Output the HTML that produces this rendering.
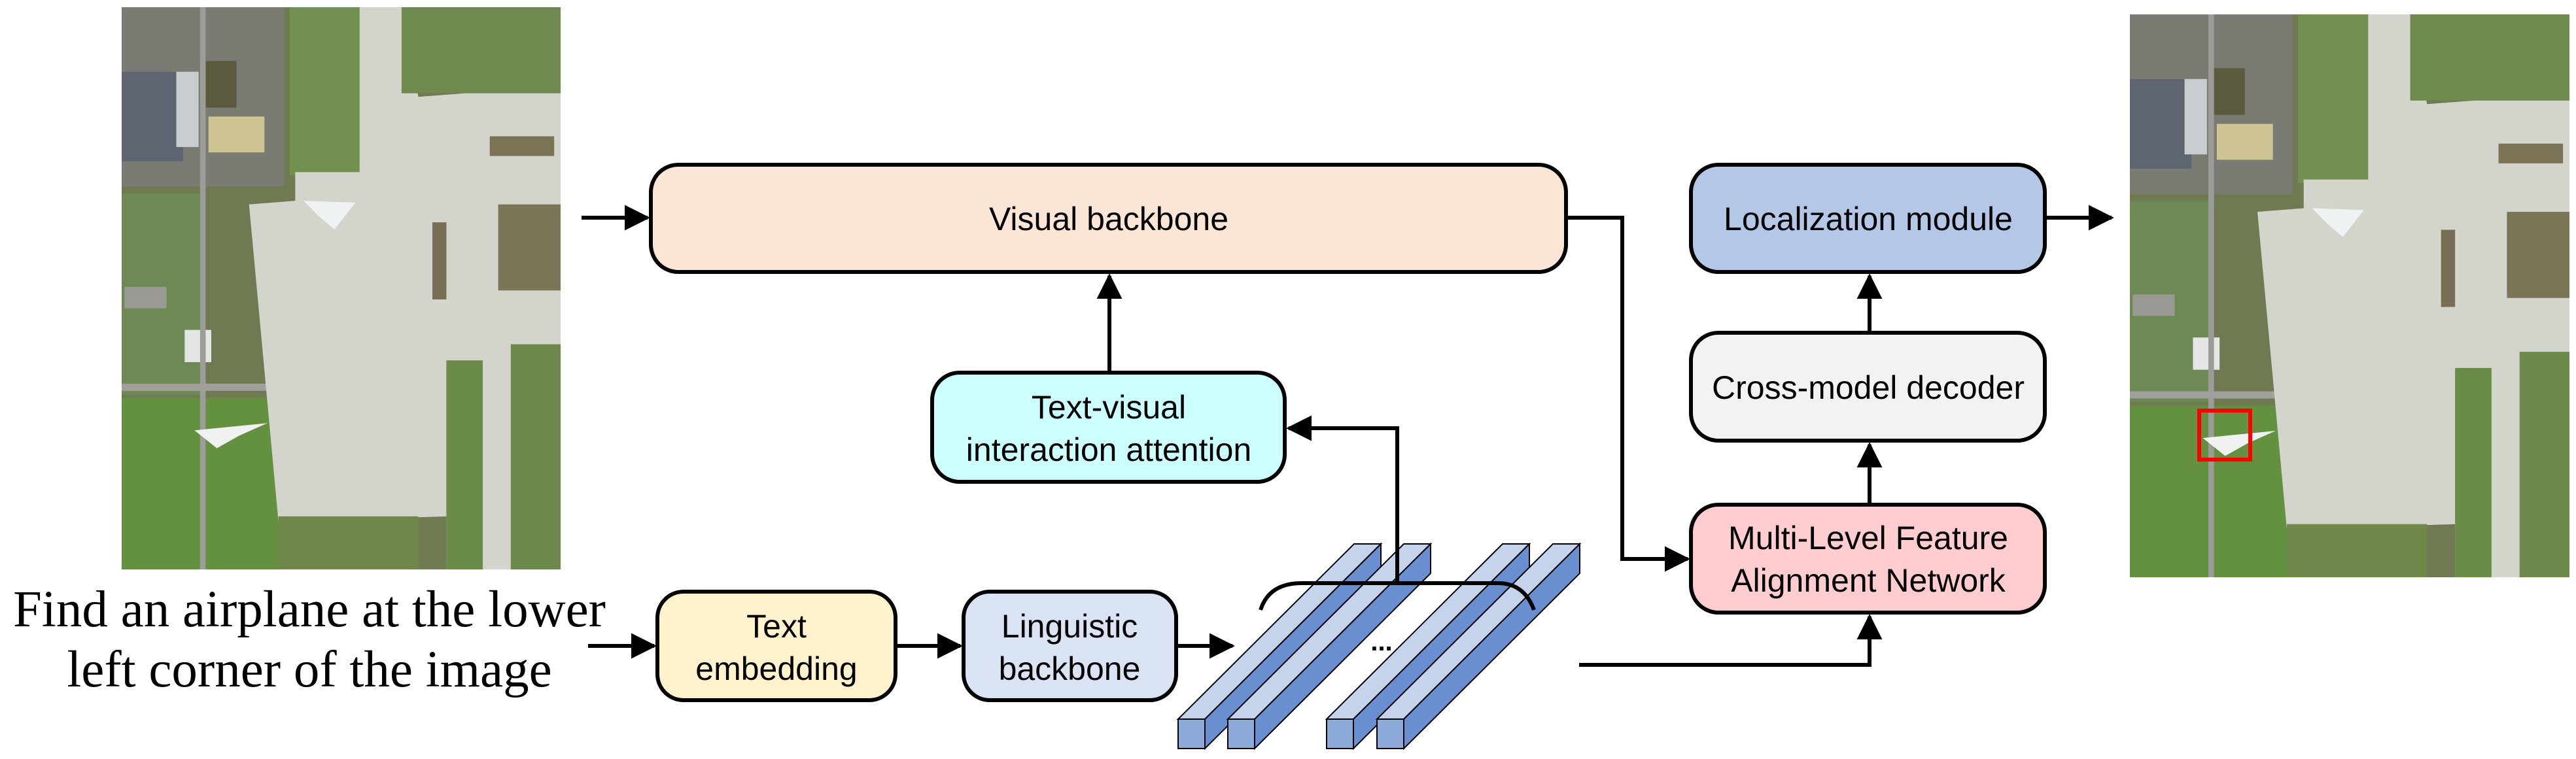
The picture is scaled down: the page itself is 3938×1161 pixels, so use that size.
<!DOCTYPE html>
<html><head><meta charset="utf-8"><style>
html,body{margin:0;padding:0;background:#fff;}
svg{display:block;}
.t{font-family:"Liberation Sans Narrow","Liberation Sans",sans-serif;font-size:50px;fill:#000;text-anchor:middle;}
.s{font-family:"Liberation Serif",serif;font-size:79px;fill:#000;text-anchor:middle;}
.b{stroke:#000;stroke-width:6;}
.l{stroke:#000;stroke-width:6;fill:none;}
</style></head><body>
<svg width="3938" height="1161" viewBox="0 0 3938 1161" xmlns="http://www.w3.org/2000/svg">
<defs>
<symbol id="sat" viewBox="0 0 1568 1568" preserveAspectRatio="none">
<rect width="1568" height="1568" fill="#6f7a52"/>
<rect x="0" y="0" width="580" height="500" fill="#7a7c74"/>
<rect x="0" y="180" width="220" height="250" fill="#5e6470"/>
<rect x="195" y="180" width="80" height="210" fill="#c9cdd0"/>
<rect x="310" y="305" width="200" height="100" fill="#cfc493"/>
<rect x="280" y="150" width="130" height="130" fill="#5c5a3c"/>
<rect x="0" y="520" width="300" height="560" fill="#6d8a55"/>
<rect x="10" y="780" width="150" height="60" fill="#9a9a95"/>
<rect x="225" y="900" width="95" height="90" fill="#e4e6e6"/>
<rect x="0" y="1090" width="560" height="478" fill="#63913f"/>
<rect x="280" y="0" width="20" height="1568" fill="#9c9d98"/>
<rect x="0" y="1050" width="560" height="20" fill="#a09f99"/>
<rect x="600" y="0" width="260" height="470" fill="#72904f"/>
<polygon points="455,550 620,540 620,460 850,460 850,0 1000,0 1060,250 1568,220 1568,1568 1160,1568 1160,1420 560,1435" fill="#d3d4cc"/>
<rect x="1000" y="0" width="568" height="240" fill="#6f8a4e"/>
<rect x="1345" y="550" width="223" height="240" fill="#7b7558"/>
<rect x="1390" y="940" width="178" height="628" fill="#6d8a4c"/>
<rect x="1160" y="985" width="130" height="583" fill="#6b8c48"/>
<rect x="1110" y="600" width="50" height="215" fill="#776e55"/>
<rect x="1315" y="360" width="230" height="55" fill="#7b7356"/>
<rect x="560" y="1420" width="500" height="148" fill="#6f8748"/>
<polygon points="650,540 835,545 760,620 700,580" fill="#eef2f2"/>
<polygon points="260,1180 520,1160 420,1195 340,1230" fill="#f0f2f2"/>
</symbol>
<marker id="a" viewBox="0 0 10 10" refX="9" refY="5" markerWidth="6.5" markerHeight="7" orient="auto" markerUnits="strokeWidth"><path d="M0,0 L10,5 L0,10 Z" fill="#000"/></marker>
</defs>
<use href="#sat" x="186" y="11" width="671" height="860"/>
<use href="#sat" x="3256" y="22" width="672" height="861"/>
<rect x="3362" y="628" width="78" height="75" fill="none" stroke="#ff0000" stroke-width="6"/>

<rect class="b" x="995" y="252" width="1399" height="164" rx="42" fill="#fbe5d6"/>
<text class="t" x="1695" y="352">Visual backbone</text>
<rect class="b" x="1425" y="570" width="539" height="167" rx="42" fill="#ccffff"/>
<text class="t" x="1695" y="640">Text-visual</text>
<text class="t" x="1695" y="705">interaction attention</text>
<rect class="b" x="1005" y="905" width="364" height="166" rx="40" fill="#fff2cc"/>
<text class="t" x="1187" y="975">Text</text>
<text class="t" x="1187" y="1040">embedding</text>
<rect class="b" x="1473" y="905" width="325" height="166" rx="40" fill="#dae3f3"/>
<text class="t" x="1635" y="975">Linguistic</text>
<text class="t" x="1635" y="1040">backbone</text>
<rect class="b" x="2585" y="252" width="541" height="164" rx="42" fill="#b4c7e7"/>
<text class="t" x="2856" y="352">Localization module</text>
<rect class="b" x="2585" y="509" width="541" height="165" rx="42" fill="#f2f2f2"/>
<text class="t" x="2856" y="610">Cross-model decoder</text>
<rect class="b" x="2585" y="772" width="541" height="165" rx="42" fill="#ffccd0"/>
<text class="t" x="2856" y="840">Multi-Level Feature</text>
<text class="t" x="2856" y="905">Alignment Network</text>

<text class="s" x="473" y="958">Find an airplane at the lower</text>
<text class="s" x="473" y="1050">left corner of the image</text>

<g stroke="#000" stroke-width="2">
<g id="bar">
<polygon points="1801,1100 1842,1100 2111,832 2070,832" fill="#c5d3ec"/>
<polygon points="1842,1100 1842,1145 2111,877 2111,832" fill="#6a8fd0"/>
<rect x="1801" y="1100" width="41" height="45" fill="#8eaadb"/>
</g>
<use href="#bar" x="76"/>
<use href="#bar" x="227"/>
<use href="#bar" x="304"/>
</g>
<text x="2112" y="995" font-family="Liberation Sans" font-size="40" text-anchor="middle" font-weight="bold">...</text>
<path class="l" d="M1927,933 Q1940,892 1990,892 L2290,892 Q2330,892 2345,933"/>

<line class="l" x1="889" y1="333" x2="990" y2="333" marker-end="url(#a)"/>
<line class="l" x1="1696" y1="570" x2="1696" y2="422" marker-end="url(#a)"/>
<polyline class="l" points="2136,892 2136,655 1970,655" marker-end="url(#a)"/>
<line class="l" x1="899" y1="988" x2="1000" y2="988" marker-end="url(#a)"/>
<line class="l" x1="1369" y1="988" x2="1468" y2="988" marker-end="url(#a)"/>
<line class="l" x1="1798" y1="988" x2="1884" y2="988" marker-end="url(#a)"/>
<polyline class="l" points="2394,333 2480,333 2480,855 2580,855" marker-end="url(#a)"/>
<polyline class="l" points="2414,1017 2858,1017 2858,943" marker-end="url(#a)"/>
<line class="l" x1="2858" y1="772" x2="2858" y2="680" marker-end="url(#a)"/>
<line class="l" x1="2858" y1="509" x2="2858" y2="422" marker-end="url(#a)"/>
<line class="l" x1="3126" y1="333" x2="3228" y2="333" marker-end="url(#a)"/>
</svg>
</body></html>
